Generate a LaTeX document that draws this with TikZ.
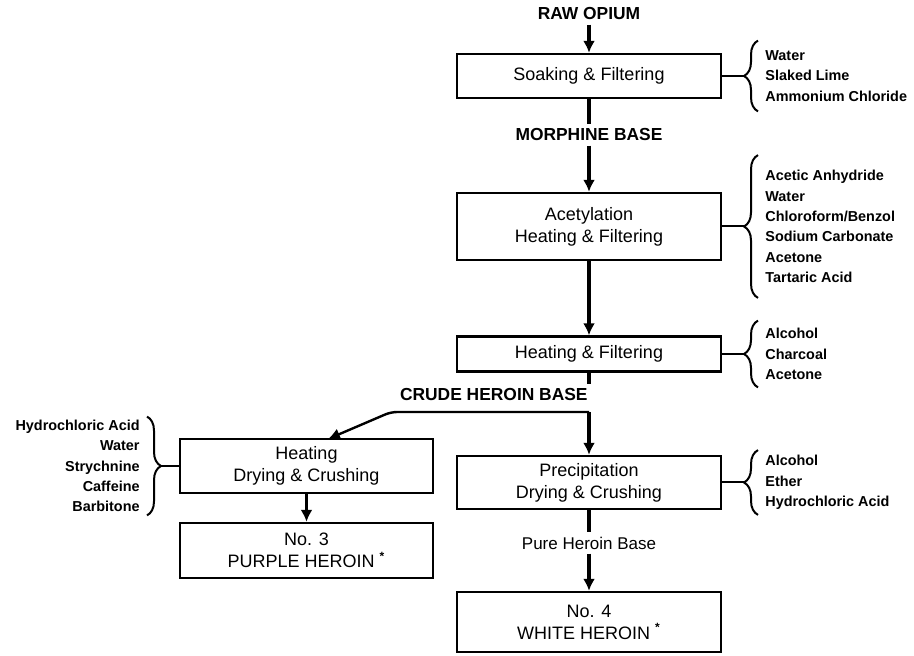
\documentclass[tikz,border=0pt]{standalone}
\usepackage{fontspec}
\setmainfont{Liberation Sans}
\usetikzlibrary{arrows.meta,decorations.pathreplacing}

\begin{document}
\begin{tikzpicture}[x=0.5pt,y=-0.5pt,>={Latex[length=6pt,width=6pt]},
    stagebox/.style={draw,line width=1.2pt,minimum width=132pt,inner sep=0pt,align=center,font=\fontsize{9}{11}\selectfont},
    flowlabel/.style={font=\fontsize{8.7}{10}\selectfont\bfseries,inner sep=2pt},
    reagents/.style={font=\fontsize{7.2}{10.2}\selectfont\bfseries,inner xsep=3.5pt,inner ysep=0pt},
    flow/.style={line width=1.7pt},
    curly/.style={decorate,decoration={brace,amplitude=7pt},line width=1pt},
    link/.style={line width=1pt}]
  \useasboundingbox (0,0) rectangle (914,656);

  % main column
  \node[flowlabel] (raw) at (589,14) {RAW OPIUM};
  \node[stagebox,minimum height=22pt] (soak) at (589,76) {Soaking \& Filtering};
  \node[flowlabel] (morph) at (589,135) {MORPHINE BASE};
  \node[stagebox,minimum height=33.5pt] (acet) at (589,226.5) {Acetylation\\Heating \& Filtering};
  \node[stagebox,minimum height=17.5pt] (heatf) at (589,354) {Heating \& Filtering};
  \node[flowlabel,anchor=east] (crude) at (592,395) {CRUDE HEROIN BASE};
  \node[stagebox,minimum height=26.5pt] (precip) at (589,482.5) {Precipitation\\Drying \& Crushing};
  \node[flowlabel,font=\fontsize{8.5}{10}\selectfont] (pure) at (589,543) {Pure Heroin Base};
  \node[stagebox,minimum height=30pt] (white) at (589,622) {No. 4\\WHITE HEROIN \textsuperscript{\textbf{*}}};

  % side branch
  \node[stagebox,minimum width=126.5pt,minimum height=27pt] (heat) at (306.5,466) {Heating\\Drying \& Crushing};
  \node[stagebox,minimum width=126.5pt,minimum height=27.5pt] (purple) at (306.5,550.5) {No. 3\\PURPLE HEROIN \textsuperscript{\textbf{*}}};

  % reagent lists
  \node[reagents,anchor=west,align=left,minimum height=35pt] (addsoak) at (758,76) {Water\\Slaked Lime\\Ammonium Chloride};
  \node[reagents,anchor=west,align=left,minimum height=71pt] (addacet) at (758,226.5) {Acetic Anhydride\\Water\\Chloroform/Benzol\\Sodium Carbonate\\Acetone\\Tartaric Acid};
  \node[reagents,anchor=west,align=left,minimum height=33pt] (addheatf) at (758,354) {Alcohol\\Charcoal\\Acetone};
  \node[reagents,anchor=west,align=left,minimum height=32pt] (addprecip) at (758,482.5) {Alcohol\\Ether\\Hydrochloric Acid};
  \node[reagents,anchor=east,align=right,minimum height=49pt] (addheat) at (147,466) {Hydrochloric Acid\\Water\\Strychnine\\Caffeine\\Barbitone};

  \draw[curly] (addsoak.south west) -- (addsoak.north west);
  \draw[curly] (addacet.south west) -- (addacet.north west);
  \draw[curly] (addheatf.south west) -- (addheatf.north west);
  \draw[curly] (addprecip.south west) -- (addprecip.north west);
  \draw[curly] (addheat.north east) -- (addheat.south east);

  \draw[link] (soak.east) -- ([xshift=-7pt]addsoak.west);
  \draw[link] (acet.east) -- ([xshift=-7pt]addacet.west);
  \draw[link] (heatf.east) -- ([xshift=-7pt]addheatf.west);
  \draw[link] (precip.east) -- ([xshift=-7pt]addprecip.west);
  \draw[link] (heat.west) -- ([xshift=7pt]addheat.east);

  % flow
  \coordinate (split) at (589,412);
  \coordinate (bend) at (391,412);
  \coordinate (hit) at (328,439);
  \draw[flow,->] (raw) -- (soak);
  \draw[flow] (soak) -- (morph);
  \draw[flow,->] (morph) -- (acet);
  \draw[flow,->] (acet) -- (heatf);
  \draw[flow] (heatf) -- (heatf.south |- crude.north);
  \draw[flow,->] (split) -- (precip);
  \draw[line width=1.2pt,->,rounded corners=3pt] (split) -- (bend) -- (hit);
  \draw[flow] (precip) -- (pure);
  \draw[flow,->] (pure) -- (white);
  \draw[flow,->] (heat) -- (purple);
\end{tikzpicture}
\end{document}
